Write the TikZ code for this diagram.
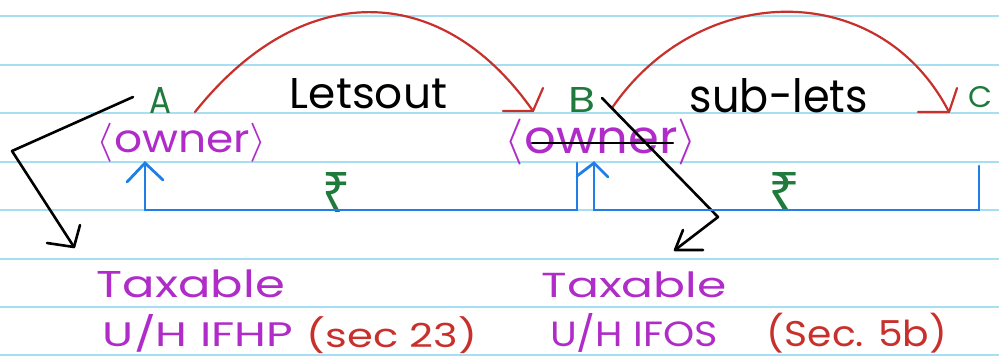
\documentclass[tikz,border=0pt]{standalone}
\usepackage{fontspec}
\usepackage{graphicx}
\setmainfont{Poppins}
\newfontfamily\rupeefont{Noto Sans}
\newcommand{\fitbox}[3]{\resizebox*{#1pt}{#2pt}{#3}}
\newcommand{\capbox}[3]{\resizebox{#1pt}{#2pt}{#3}}
\definecolor{ruleblue}{HTML}{A6DEF2}
\definecolor{penred}{HTML}{C8302C}
\definecolor{pengreen}{HTML}{1F7A3C}
\definecolor{penpurple}{HTML}{B02CC8}
\definecolor{penblue}{HTML}{1F7FE6}
\tikzset{
  rule/.style={draw=ruleblue, line width=2pt},
  redarc/.style={draw=penred, line width=2.2pt, line cap=round, line join=round},
  blackpen/.style={draw=black, line width=2.6pt, line cap=round, line join=round},
  bluepen/.style={draw=penblue, line width=2.8pt, line cap=round, line join=miter},
  lbl/.style={inner sep=0pt, outer sep=0pt, anchor=center},
  baselbl/.style={inner sep=0pt, outer sep=0pt, anchor=base},
  greenlbl/.style={lbl, text=pengreen},
  blacklbl/.style={lbl, text=black},
  purplelbl/.style={lbl, text=penpurple},
  redlbl/.style={lbl, text=penred},
}
\begin{document}
\begin{tikzpicture}[x=1pt, y=-1pt]
\fill[white] (0,0) rectangle (999,357);
\useasboundingbox (0,0) rectangle (999,357);
% ruled paper lines
\foreach \yy in {16,65,113,162,210,259,307,355} {
  \draw[rule] (0,\yy) -- (999,\yy);
}
% labels
\node[greenlbl, baselbl] (A) at (161,113) {\capbox{22}{26}{A}};
\node[blacklbl, baselbl] (letsout) at (368.5,108) {\capbox{157}{30}{Letsout}};
\node[greenlbl, baselbl] (B) at (581.5,112) {\capbox{27}{25}{B}};
\node[blacklbl, baselbl] (sublets) at (779,112) {\capbox{178}{34}{sub-lets}};
\node[greenlbl, baselbl] (C) at (980,107) {\capbox{24}{21}{C}};
\node[purplelbl] (ownerA) at (182,142.5) {\fitbox{170}{39}{$\langle$owner$\rangle$}};
\node[purplelbl] (ownerB) at (601,141.5) {\fitbox{192}{46}{$\langle$owner$\rangle$}};
\node[greenlbl] (rupL) at (336,192) {\fitbox{28}{40}{\rupeefont ₹}};
\node[greenlbl] (rupR) at (784,191) {\fitbox{32}{38}{\rupeefont ₹}};
\node[purplelbl] (taxL) at (191,284) {\fitbox{188}{28}{Taxable}};
\node[purplelbl, baselbl] (uhL) at (198,346) {\capbox{190}{32}{U/H IFHP}};
\node[redlbl] (secL) at (392,335) {\fitbox{170}{37}{(sec 23)}};
\node[purplelbl] (taxR) at (634,285) {\fitbox{185}{26}{Taxable}};
\node[purplelbl, baselbl] (uhR) at (634,346) {\capbox{168}{33}{U/H IFOS}};
\node[redlbl] (secR) at (857,333) {\fitbox{180}{40}{(Sec. 5b)}};
% coordinates
\coordinate (arc1s) at (195,112);
\coordinate (arc1e) at (533,111);
\coordinate (arc2s) at (612,108);
\coordinate (arc2e) at (949,112);
% red arcs with open heads
\draw[redarc] (arc1s) .. controls (300,-20) and (440,-22) .. (arc1e);
\draw[redarc] (503,111) -- (arc1e) -- (543,88);
\draw[redarc] (arc2s) .. controls (700,-20) and (880,-22) .. (arc2e);
\draw[redarc] (918,112) -- (arc2e) -- (957,88);
% strike through second owner
\coordinate (strS) at (532,143);
\coordinate (strE) at (673,143);
\draw[blackpen, line width=2.2pt] (strS) -- (strE);
% black bent arrows
\coordinate (kA1) at (133,97);
\coordinate (kA2) at (12,151);
\coordinate (kA3) at (74,247);
\draw[blackpen] (kA1) -- (kA2) -- (kA3);
\draw[blackpen] (47,243) -- (kA3) -- (80,225);
\coordinate (kB1) at (602,98);
\coordinate (kB2) at (718,217);
\coordinate (kB3) at (675,250);
\draw[blackpen] (kB1) -- (kB2) -- (kB3);
\draw[blackpen] (683,230) -- (kB3) -- (703,250);
% blue money flow lines
\coordinate (bA) at (145,163);
\coordinate (bL) at (145,210);
\coordinate (bM1) at (577,210);
\coordinate (bM1t) at (577,163);
\coordinate (bM2) at (594,210);
\coordinate (bM2t) at (594,163);
\coordinate (bR) at (979,210);
\coordinate (bRt) at (979,166);
\draw[bluepen] (bA) -- (bL) -- (bM1) -- (bM1t);
\draw[bluepen] (127,182) -- (bA) -- (163,180);
\draw[bluepen] (bM2t) -- (bM2) -- (bR) -- (bRt);
\draw[bluepen] (577,176) -- (bM2t) -- (608,177);
\end{tikzpicture}
\end{document}
